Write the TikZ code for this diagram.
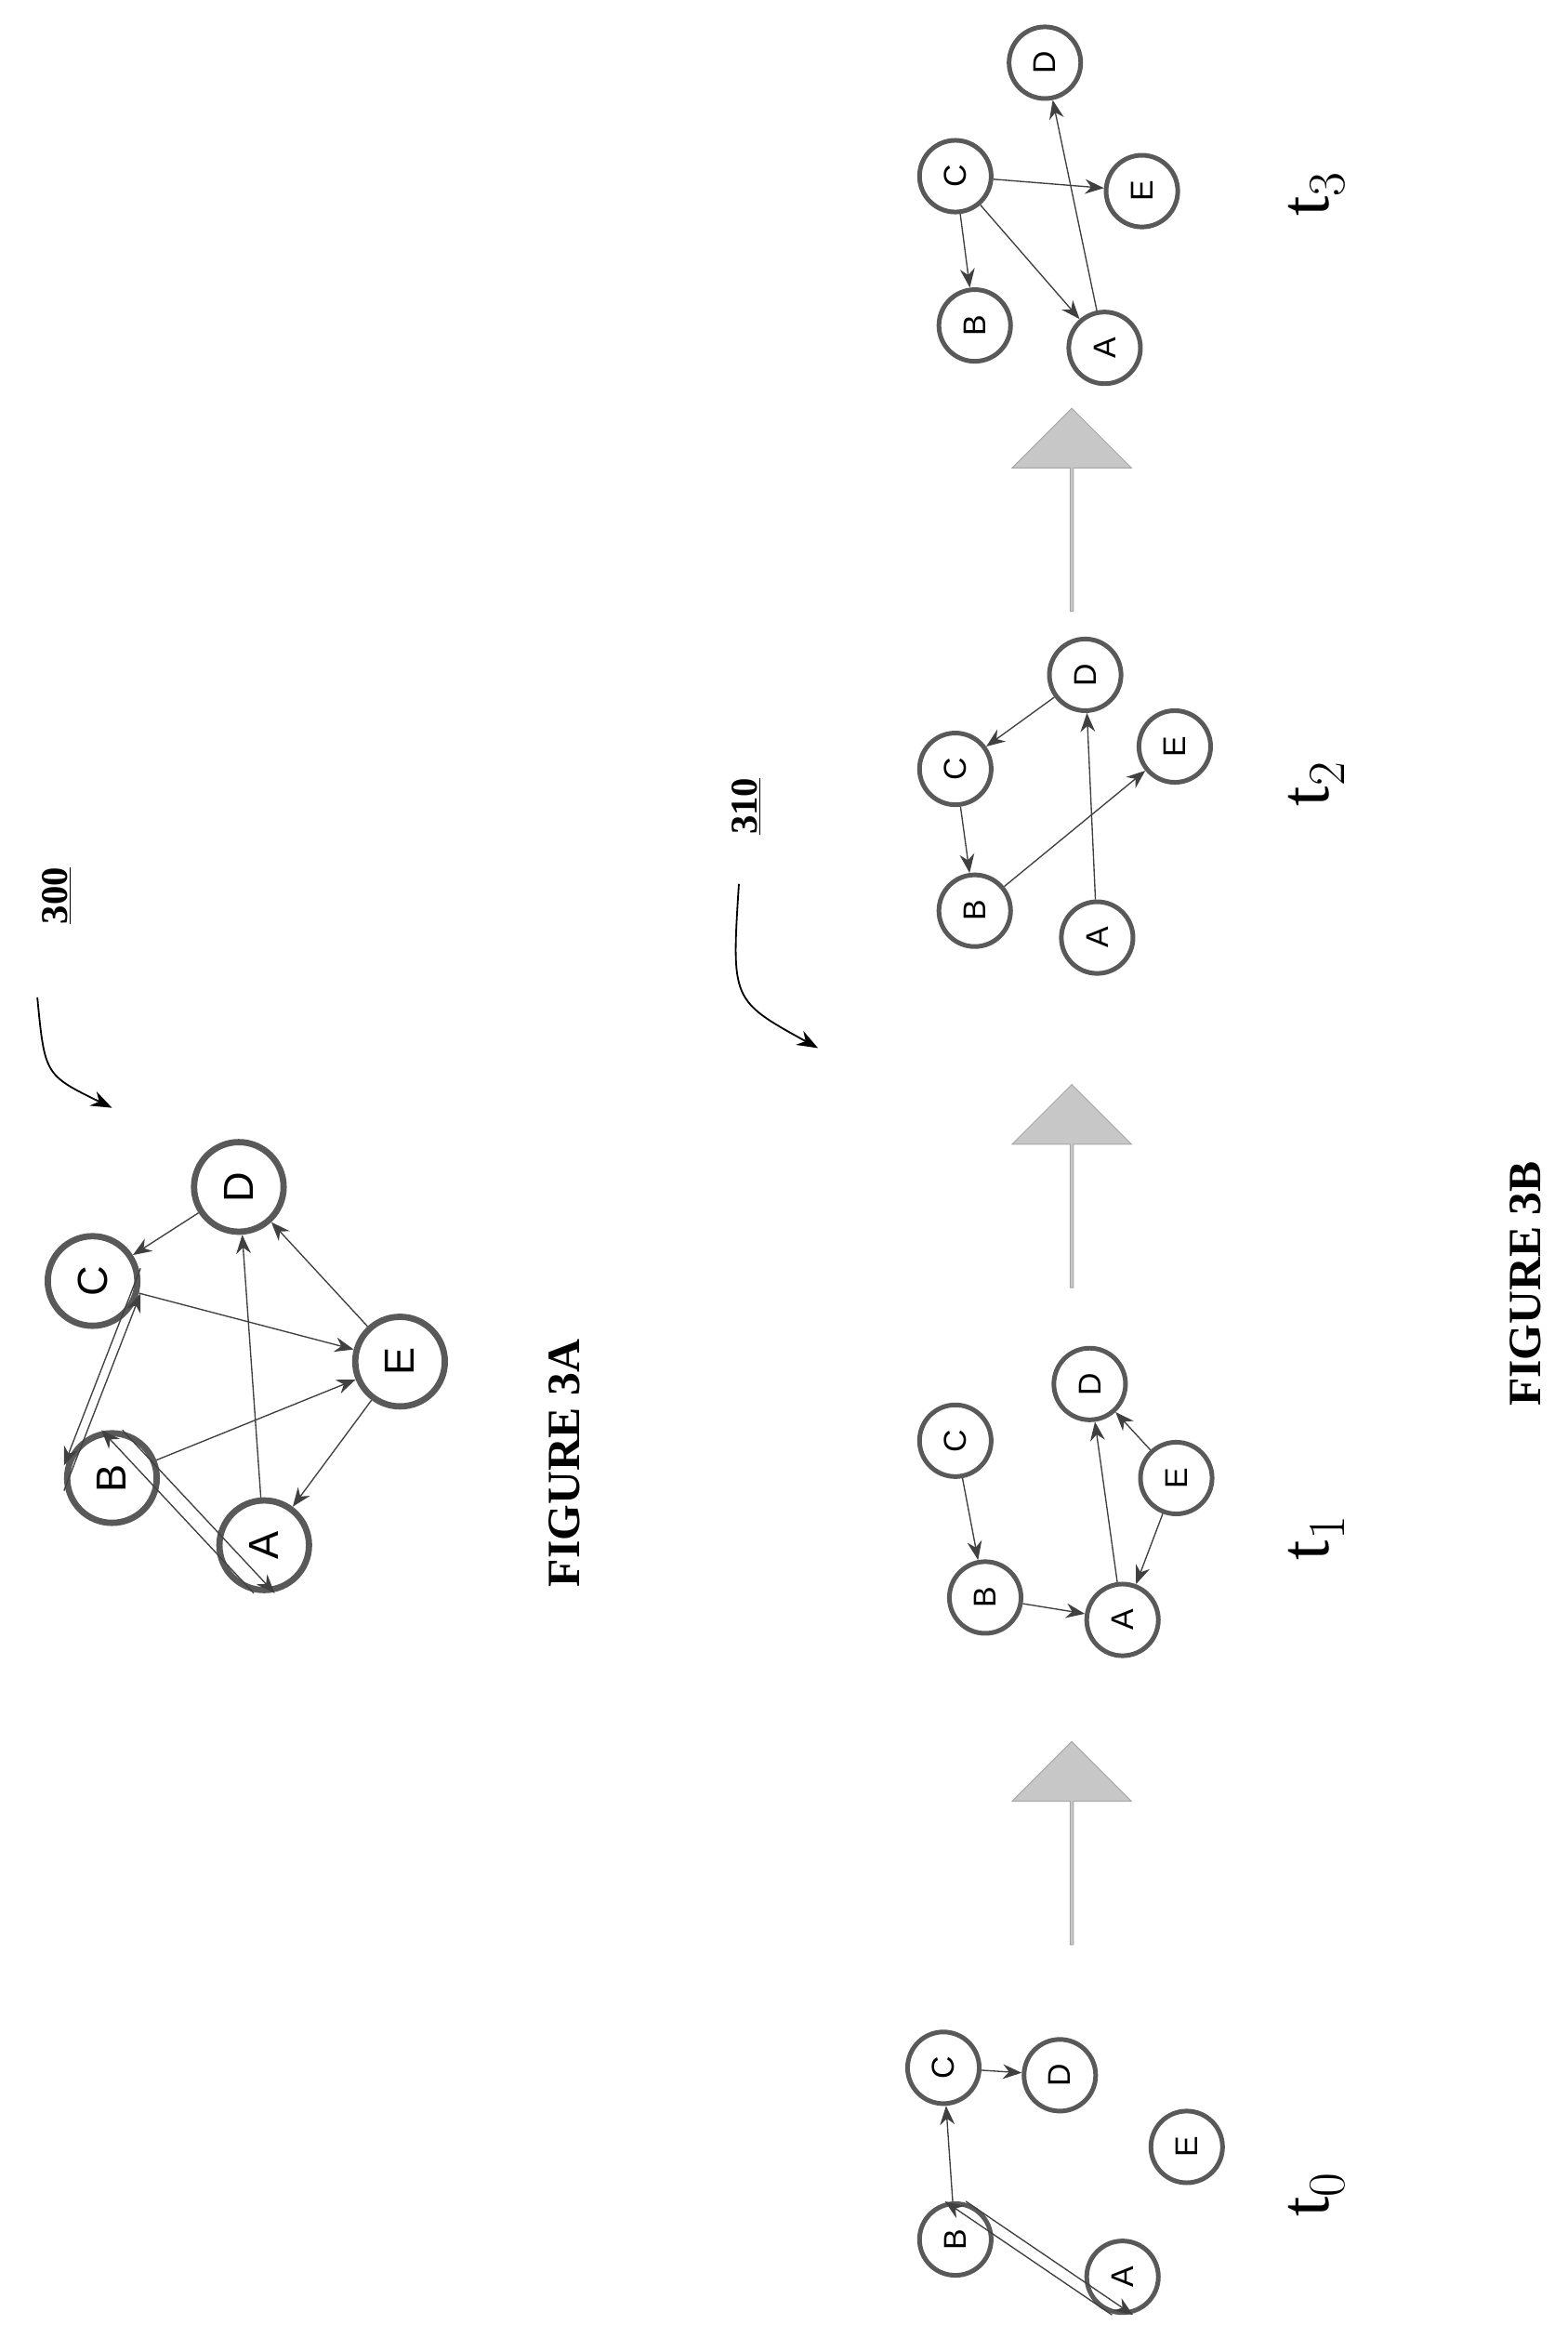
\documentclass[tikz,border=0pt]{standalone}
\usepackage{fontspec}
\setmainfont{Liberation Serif}
\newfontfamily\nodefont{Liberation Sans}
\usetikzlibrary{shapes.arrows,arrows.meta}
\tikzset{
    vtx/.style={
           circle,
           draw=black!65, line width=2.2pt,
           fill=white,
           minimum size=1.2cm,
           inner sep=0pt,
           rotate=90,
           font=\nodefont\fontsize{15}{15}\selectfont
           },
    bigvtx/.style={
           vtx,
           minimum size=1.5cm,
           line width=3pt,
           font=\nodefont\fontsize{20}{20}\selectfont
           },
    link/.style={
           -{Stealth[length=9pt,width=7pt]},
           draw=black!75,
           line width=0.6pt
           },
    stagearrow/.style={
           single arrow,
           rotate=90,
           draw=black!35, fill=black!22,
           minimum height=3.4cm,
           minimum width=2cm,
           single arrow head extend=0.25cm,
           inner sep=0pt
           },
    tlabel/.style={rotate=90, font=\fontsize{34}{34}\selectfont},
    caption/.style={rotate=90, font=\bfseries\fontsize{22}{22}\selectfont},
    refnum/.style={rotate=90, font=\bfseries\fontsize{18}{18}\selectfont},
}
\begin{document}
\begin{tikzpicture}[x=0.025cm,y=-0.025cm]
    \useasboundingbox (0,0) rectangle (1050,1566);

    % FIGURE 3A
    \node[bigvtx] (D) at (160,795) {D};
    \node[bigvtx] (C) at (62,858) {C};
    \node[bigvtx] (E) at (268,912) {E};
    \node[bigvtx] (B) at (75,990) {B};
    \node[bigvtx] (A) at (177,1035) {A};
    \draw[link] (D) -- (C);
    \draw[link] ([yshift=-6pt]B.north) -- ([yshift=-6pt]C.south);
    \draw[link] ([yshift=6pt]C.south) -- ([yshift=6pt]B.north);
    \draw[link] (C) -- (E);
    \draw[link] (E) -- (D);
    \draw[link] (A) -- (D);
    \draw[link] (B) -- (E);
    \draw[link] (E) -- (A);
    \draw[link] ([xshift=-5pt]A.west) -- ([xshift=-5pt]B.east);
    \draw[link] ([xshift=5pt]B.east) -- ([xshift=5pt]A.west);
    \node[caption] (fig3a) at (378,980) {FIGURE 3A};
    \node[refnum] (n300) at (38,600) {\underline{300}};
    \coordinate (c300) at (25,668);
    \draw[-{Stealth[length=10pt]}, line width=0.8pt] (c300) .. controls (30,720) .. (75,742);

    % FIGURE 3B, t0
    \node[vtx] (C0) at (632,1385) {C};
    \node[vtx] (D0) at (710,1390) {D};
    \node[vtx] (E0) at (795,1438) {E};
    \node[vtx] (B0) at (640,1500) {B};
    \node[vtx] (A0) at (752,1525) {A};
    \draw[link] (B0) -- (C0);
    \draw[link] (C0) -- (D0);
    \draw[link] ([xshift=-5pt]A0.west) -- ([xshift=-5pt]B0.east);
    \draw[link] ([xshift=5pt]B0.east) -- ([xshift=5pt]A0.west);
    \node[tlabel] (t0) at (882,1470) {t$_0$};

    % t1
    \node[vtx] (C1) at (640,965) {C};
    \node[vtx] (D1) at (730,927) {D};
    \node[vtx] (E1) at (788,990) {E};
    \node[vtx] (B1) at (660,1070) {B};
    \node[vtx] (A1) at (752,1085) {A};
    \draw[link] (C1) -- (B1);
    \draw[link] (B1) -- (A1);
    \draw[link] (A1) -- (D1);
    \draw[link] (E1) -- (D1);
    \draw[link] (E1) -- (A1);
    \node[tlabel] (t1) at (882,1030) {t$_1$};

    % t2
    \node[vtx] (C2) at (640,515) {C};
    \node[vtx] (D2) at (727,452) {D};
    \node[vtx] (E2) at (787,500) {E};
    \node[vtx] (B2) at (653,610) {B};
    \node[vtx] (A2) at (735,628) {A};
    \draw[link] (D2) -- (C2);
    \draw[link] (C2) -- (B2);
    \draw[link] (B2) -- (E2);
    \draw[link] (A2) -- (D2);
    \node[tlabel] (t2) at (882,525) {t$_2$};

    % t3
    \node[vtx] (D3) at (700,42) {D};
    \node[vtx] (C3) at (640,118) {C};
    \node[vtx] (E3) at (765,128) {E};
    \node[vtx] (B3) at (653,218) {B};
    \node[vtx] (A3) at (740,233) {A};
    \draw[link] (C3) -- (B3);
    \draw[link] (C3) -- (A3);
    \draw[link] (C3) -- (E3);
    \draw[link] (A3) -- (D3);
    \node[tlabel] (t3) at (882,130) {t$_3$};

    % steps
    \node[stagearrow] (s01) at (718,1235) {};
    \node[stagearrow] (s12) at (718,795) {};
    \node[stagearrow] (s23) at (718,342) {};

    \node[refnum] (n310) at (500,540) {\underline{310}};
    \coordinate (c310) at (495,592);
    \draw[-{Stealth[length=10pt]}, line width=0.8pt] (c310) .. controls (490,670) .. (548,702);
    \node[caption] (fig3b) at (1022,860) {FIGURE 3B};
\end{tikzpicture}
\end{document}
